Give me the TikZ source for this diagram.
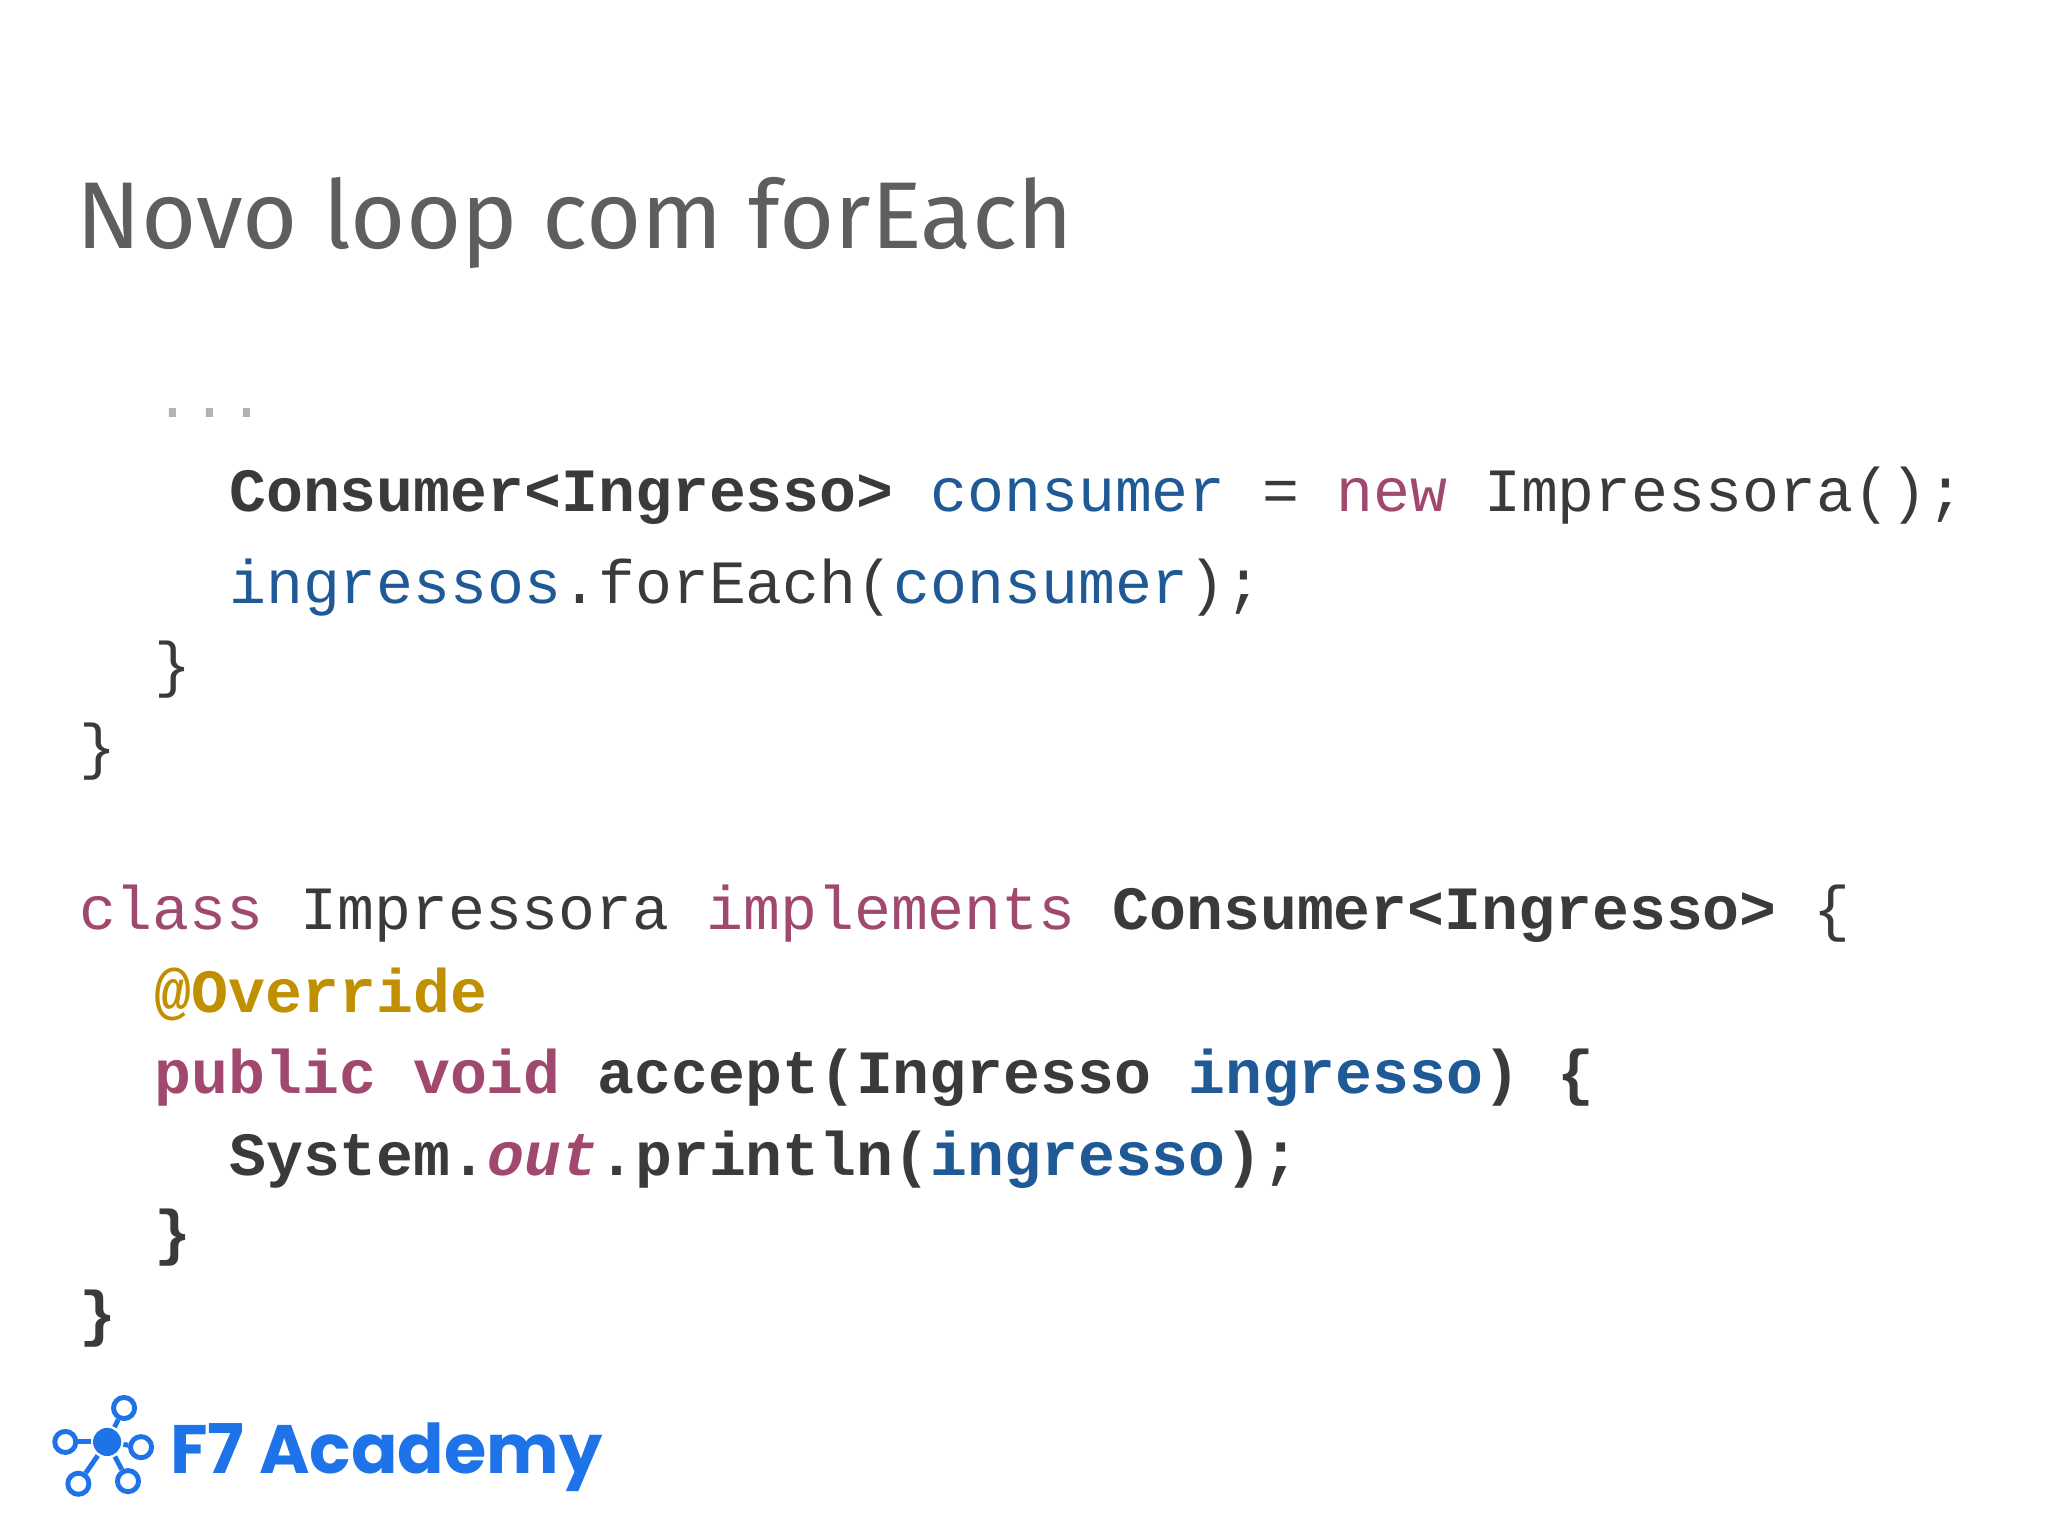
\documentclass[tikz,border=0pt]{standalone}
\usepackage{fontspec}
\setmainfont{Fira Sans}
\newfontfamily\codef{Liberation Mono}
\newfontfamily\logof{Poppins}
\definecolor{tgray}{HTML}{5E5E5E}
\definecolor{cdark}{HTML}{3A3A3A}
\definecolor{cblue}{HTML}{1F5A96}
\definecolor{cpurp}{HTML}{A0486E}
\definecolor{cgold}{HTML}{C09000}
\definecolor{lblue}{HTML}{1E73E8}
\tikzset{code/.style={anchor=base west,inner sep=0pt,font=\codef\fontsize{17.5}{20}\selectfont,text=cdark}}
\begin{document}
\begin{tikzpicture}[x=0.01306cm,y=-0.01306cm]
\useasboundingbox[fill=white] (0,0) rectangle (1568,1176);
\node[anchor=base west,inner sep=0pt,font=\fontsize{27}{34}\selectfont,text=tgray] (title) at (58,190) {Novo loop com forEach};
\node[code,text=gray!60] (l0) at (118,320) {...};
\node[code] (l1) at (175,392) {\textbf{Consumer<Ingresso>} \textcolor{cblue}{consumer} = \textcolor{cpurp}{new} Impressora();};
\node[code] (l2) at (175,462) {\textcolor{cblue}{ingressos}.forEach(\textcolor{cblue}{consumer});};
\node[code] (l3) at (118,525) {\}};
\node[code] (l4) at (60,588) {\}};
\node[code] (l5) at (60,712) {\textcolor{cpurp}{class} Impressora \textcolor{cpurp}{implements} \textbf{Consumer<Ingresso>} \{};
\node[code] (l6) at (118,775) {\textbf{\textcolor{cgold}{@Override}}};
\node[code] (l7) at (118,837) {\textbf{\textcolor{cpurp}{public void} accept(Ingresso \textcolor{cblue}{ingresso}) \{}};
\node[code] (l8) at (175,900) {\textbf{System.\textcolor{cpurp}{\textit{out}}.println(\textcolor{cblue}{ingresso});}};
\node[code] (l9) at (118,960) {\textbf{\}}};
\node[code] (l10) at (60,1022) {\textbf{\}}};
% logo
\begin{scope}[lblue,line width=1.4pt]
\coordinate (c) at (82,1104);
\node[circle,fill=lblue,inner sep=0pt,minimum size=8pt] (hub) at (c) {};
\foreach \n/\p in {a/{(95,1078)},b/{(108,1108)},d/{(50,1104)},e/{(60,1136)},f/{(98,1134)}}{
  \node[circle,draw,fill=white,inner sep=0pt,minimum size=6pt] (\n) at \p {};
  \draw (hub) -- (\n);
}
\end{scope}
\node[anchor=base west,inner sep=0pt,font=\logof\bfseries\fontsize{19.5}{24}\selectfont,text=lblue] (logo) at (130,1128) {F7 Academy};
\end{tikzpicture}
\end{document}
